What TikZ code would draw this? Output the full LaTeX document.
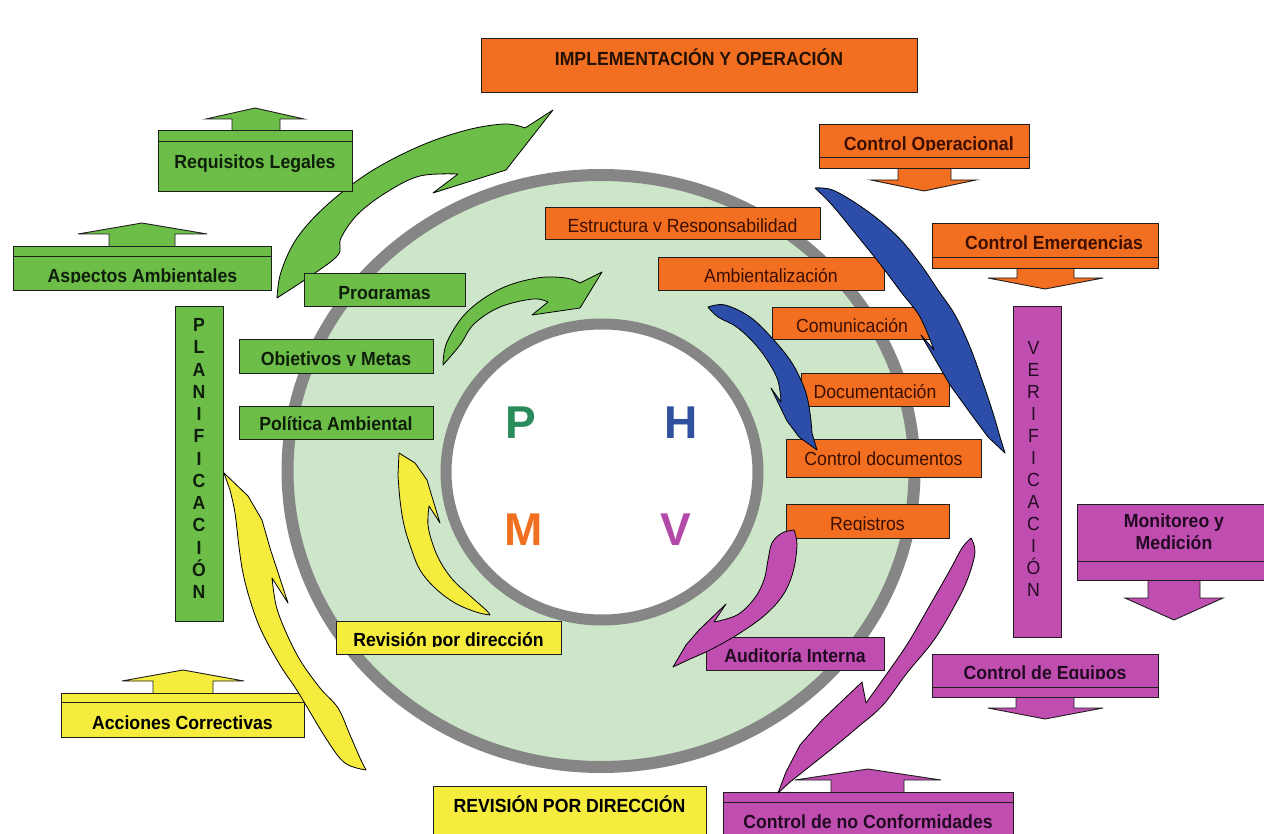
\documentclass[tikz,border=0pt]{standalone}
\usepackage{fontspec}
\setmainfont{Liberation Sans}[FakeStretch=0.93]
\newfontfamily\phvafont{Liberation Sans}
\newcommand\dgmfont{\fontsize{19}{22.5}\selectfont}
% hides the part of a label below its baseline (clipped descenders)
\newcommand\cutdesc[2]{\fill[#2] ([xshift=1pt,yshift=-0.4pt]#1.base west) rectangle ([xshift=-1pt,yshift=-4.8pt]#1.base east);}

\definecolor{gfill}{RGB}{108,190,72}
\definecolor{ofill}{RGB}{242,110,32}
\definecolor{mfill}{RGB}{192,78,176}
\definecolor{yfill}{RGB}{245,236,62}
\definecolor{bfill}{RGB}{44,78,168}
\definecolor{ringin}{RGB}{205,229,200}
\definecolor{ringgray}{RGB}{134,134,134}
\definecolor{edge}{RGB}{30,30,30}
\definecolor{gtext}{RGB}{15,30,10}
\definecolor{otext}{RGB}{60,15,0}
\definecolor{mtext}{RGB}{35,10,35}
\definecolor{Pcol}{RGB}{42,140,90}
\definecolor{Hcol}{RGB}{48,80,160}
\definecolor{Mcol}{RGB}{240,112,32}
\definecolor{Vcol}{RGB}{178,72,168}

\tikzset{
  sz/.style 2 args={minimum width=#1pt, minimum height=#2pt},
  boxbase/.style={draw=edge, line width=0.9pt, inner sep=0pt, font=\dgmfont},
  box/.style={boxbase, text height=18.2pt, text depth=0pt},
  gbox/.style={box, fill=gfill, text=gtext, font=\dgmfont\bfseries},
  obox/.style={box, fill=ofill, text=otext},
  oboxb/.style={obox, font=\dgmfont\bfseries},
  mbox/.style={box, fill=mfill, text=mtext, font=\dgmfont\bfseries},
  ybox/.style={box, fill=yfill, text=black, font=\dgmfont\bfseries},
  farrow/.style={draw=edge, line width=0.9pt, line join=miter},
  sepline/.style={draw=edge, line width=0.9pt},
  carrow/.style={draw=black, line width=0.8pt, line join=round},
  phva/.style={inner sep=0pt, font=\phvafont\fontsize{46}{50}\selectfont\bfseries},
  vword/.style={inner sep=0pt, align=center}
}

\begin{document}
\begin{tikzpicture}[x=1pt,y=-1pt]
\useasboundingbox (0,0) rectangle (1264,834);
\fill[white] (0,0) rectangle (1264,834);

% ---- the two rings of the cycle ----
\fill[ringin] (601,471) ellipse [x radius=313.5pt, y radius=296pt];
\draw[ringgray, line width=12pt] (601,471) ellipse [x radius=313.5pt, y radius=296pt];
\fill[white] (602,472) ellipse [x radius=156pt, y radius=148pt];
\draw[ringgray, line width=11pt] (602,472) ellipse [x radius=156pt, y radius=148pt];

\node[phva, text=Pcol] (lp) at (521,423) {P};
\node[phva, text=Hcol] (lh) at (681,423) {H};
\node[phva, text=Mcol] (lm) at (524,530) {M};
\node[phva, text=Vcol] (lv) at (676,530) {V};

% ---- large green curved arrow (behind the boxes) ----
\draw[carrow, fill=gfill]
  plot[smooth, tension=0.6] coordinates {(277,298) (281,272) (297,238) (327,205) (370,172) (420,146) (467,130) (505,124) (525,128)}
  -- (553,110) -- (506,170) -- (433,193) -- (458,174)
  -- plot[smooth, tension=0.6] coordinates {(458,174) (420,176) (387,192) (358,214) (341,238) (338,255) (312,275) (277,298)}
  -- cycle;

% ---- planning ----
\draw[farrow, fill=gfill] (232,130) -- (232,119) -- (206,119) -- (255,108) -- (304,119) -- (280,119) -- (280,130);
\node[gbox, sz={194}{61}, text height=16pt] (req) at (255,160.5) {Requisitos Legales};
\draw[sepline] ([yshift=-12pt]req.north west) -- ([yshift=-12pt]req.north east);

\draw[farrow, fill=gfill] (109,246) -- (109,234) -- (78,234) -- (142,223) -- (207,234) -- (175,234) -- (175,246);
\node[gbox, sz={258}{44}, text height=29.2pt] (asp) at (142.5,268) {Aspectos Ambientales};
\draw[sepline] ([yshift=-11pt]asp.north west) -- ([yshift=-11pt]asp.north east);
\cutdesc{asp}{gfill}

\node[gbox, sz={161}{33}] (prog) at (384.5,290) {Programas};
\cutdesc{prog}{gfill}
\node[gbox, sz={194}{34}] (obj) at (336,356) {Objetivos y Metas};
\cutdesc{obj}{gfill}
\node[gbox, sz={194}{33}, text height=15.2pt] (pol) at (336,422.5) {Política Ambiental};

\node[boxbase, fill=gfill, sz={48}{315}] (plan) at (199,463.5) {};
\node[vword, font=\fontsize{19}{22.25}\selectfont\bfseries, text=gtext] (plantxt) at (199,458.5)
  {P\\L\\A\\N\\I\\F\\I\\C\\A\\C\\I\\Ó\\N};

% ---- implementation and operation ----
\node[oboxb, sz={436}{54}, text height=1pt, text=black!85!ofill] (impl) at (699,65) {IMPLEMENTACIÓN Y OPERACIÓN};

\draw[farrow, fill=ofill] (898,168) -- (898,180) -- (871,180) -- (924,191) -- (976,180) -- (951,180) -- (951,168);
\node[oboxb, sz={210}{44}, text height=9pt] (cop) at (924,146) {\hspace*{9.6pt}Control Operacional};
\draw[sepline] ([yshift=11pt]cop.south west) -- ([yshift=11pt]cop.south east);
\cutdesc{cop}{ofill}

\draw[farrow, fill=ofill] (1017,268) -- (1017,278) -- (988,278) -- (1045,289) -- (1103,278) -- (1074,278) -- (1074,268);
\node[oboxb, sz={226}{45}, text height=8.6pt] (cem) at (1045,245.5) {\hspace*{18pt}Control Emergencias};
\draw[sepline] ([yshift=11pt]cem.south west) -- ([yshift=11pt]cem.south east);
\cutdesc{cem}{ofill}

\node[obox, sz={275}{32}] (est) at (682.5,223) {Estructura y Responsabilidad};
\cutdesc{est}{ofill}
\node[obox, sz={226}{33}] (amb) at (771,273.5) {Ambientalización};
\node[obox, sz={160}{32}] (com) at (852,323) {Comunicación};
\node[obox, sz={148}{33}] (doc) at (875,389.5) {Documentación};
\node[obox, sz={195}{38}, text height=14.4pt] (cdoc) at (883.5,458) {Control documentos};
\node[obox, sz={163}{34}] (reg) at (867.5,521) {Registros};
\cutdesc{reg}{ofill}

% ---- verification ----
\node[boxbase, fill=mfill, sz={48}{331}] (ver) at (1037,471.5) {};
\node[vword, font=\fontsize{19}{22}\selectfont, text=mtext] (vertxt) at (1033.5,469)
  {V\\E\\R\\I\\F\\I\\C\\A\\C\\I\\Ó\\N};

\draw[farrow, fill=mfill] (1148,580) -- (1148,598) -- (1125,598) -- (1174,620) -- (1223,598) -- (1200,598) -- (1200,580);
\node[boxbase, fill=mfill, sz={194}{76}] (mon) at (1174,542) {};
\draw[sepline] ([yshift=19pt]mon.south west) -- ([yshift=19pt]mon.south east);
\node[vword, font=\fontsize{19}{21.8}\selectfont\bfseries, text=mtext] (montxt) at (1174,532.1) {Monitoreo y\\Medición};

\draw[farrow, fill=mfill] (1016,697) -- (1016,708) -- (988,708) -- (1045,719) -- (1103,708) -- (1074,708) -- (1074,697);
\node[mbox, sz={226}{43}, text height=7pt] (ceq) at (1045,675.5) {Control de Equipos};
\draw[sepline] ([yshift=10pt]ceq.south west) -- ([yshift=10pt]ceq.south east);
\cutdesc{ceq}{mfill}

\node[mbox, sz={178}{33}] (aud) at (795,653.5) {Auditoría Interna};

\draw[farrow, fill=mfill] (831,792) -- (831,780) -- (795,780) -- (868,769) -- (941,780) -- (904,780) -- (904,792);
\node[mbox, sz={290}{60}, text height=13.6pt] (cnc) at (868,822) {Control de no Conformidades};
\draw[sepline] ([yshift=-11pt]cnc.north west) -- ([yshift=-11pt]cnc.north east);

% ---- management review ----
\node[ybox, sz={225}{33}] (revd) at (448.5,637.5) {Revisión por dirección};
\cutdesc{revd}{yfill}

\draw[farrow, fill=yfill] (153,693) -- (153,681) -- (122,681) -- (183,670) -- (244,681) -- (213,681) -- (213,693);
\node[ybox, sz={243}{44}, text height=28.6pt] (acc) at (182.5,715) {Acciones Correctivas};
\draw[sepline] ([yshift=-10pt]acc.north west) -- ([yshift=-10pt]acc.north east);

\node[ybox, sz={273}{66}, text height=0pt, text depth=13.8pt] (rev) at (569.5,819) {REVISIÓN POR DIRECCIÓN};

% ---- curved arrows of the cycle ----
% small green
\draw[carrow, fill=gfill]
  plot[smooth, tension=0.6] coordinates {(443,365) (447,342) (467,312) (500,289) (537,278) (566,278) (580,283)}
  -- (602,272) -- (580,308) -- (532,315) -- (548,302)
  -- plot[smooth, tension=0.6] coordinates {(548,302) (533,299) (500,307) (474,324) (460,345) (443,365)}
  -- cycle;

% large blue
\draw[carrow, fill=bfill]
  plot[smooth, tension=0.6] coordinates {(815,188) (835,191) (870,213) (899,238) (921,265) (938,290) (955,315) (970,347) (982,380) (993,413) (1000,437)}
  -- (1005,453) -- (988,437) -- (968,410) -- (950,385) -- (921,335) -- (934,350)
  -- plot[smooth, tension=0.6] coordinates {(934,350) (920,317) (901,292) (880,264) (855,233) (832,205) (815,188)}
  -- cycle;

% small blue
\draw[carrow, fill=bfill]
  plot[smooth, tension=0.6] coordinates {(708,307) (725,305) (750,317) (772,338) (792,363) (805,390) (810,413) (812,433)}
  -- (817,450) -- (799,437) -- (787,421) -- (771,388) -- (781,402)
  -- plot[smooth, tension=0.6] coordinates {(781,402) (777,378) (760,350) (738,328) (718,317) (708,307)}
  -- cycle;

% small magenta
\draw[carrow, fill=mfill]
  plot[smooth, tension=0.6] coordinates {(794,530) (797,545) (793,572) (783,595) (765,615) (740,633) (712,649) (690,659)}
  -- (673,667) -- (686,645) -- (699,630) -- (726,604) -- (714,622)
  -- plot[smooth, tension=0.6] coordinates {(714,622) (737,615) (754,599) (764,580) (768,560) (772,543) (782,533) (794,530)}
  -- cycle;

% large magenta
\draw[carrow, fill=mfill]
  plot[smooth, tension=0.6] coordinates {(971,538) (975,552) (968,578) (955,605) (934,640) (907,673) (883,705) (858,727) (834,747) (809,767) (790,782)}
  -- (778,793) -- (786,772) -- (800,745) -- (822,720) -- (862,682) -- (866,703)
  -- plot[smooth, tension=0.6] coordinates {(866,703) (886,675) (908,643) (930,605) (950,570) (962,548) (971,538)}
  -- cycle;

% large yellow
\draw[carrow, fill=yfill]
  plot[smooth, tension=0.6] coordinates {(366,770) (345,763) (327,740) (298,692) (280,665) (261,630) (250,600) (243,573) (239,547) (235,513) (230,490)}
  -- (224,473) -- (248,496) -- (262,520) -- (270,548) -- (288,603) -- (272,578)
  -- plot[smooth, tension=0.6] coordinates {(272,578) (276,605) (285,630) (300,660) (320,688) (338,708) (350,735) (360,758) (366,770)}
  -- cycle;

% small yellow
\draw[carrow, fill=yfill]
  plot[smooth, tension=0.6] coordinates {(490,615) (476,612) (455,603) (435,588) (420,570) (411,548) (404,525) (400,500) (398,475)}
  -- (399,453) -- (415,463) -- (427,480) -- (433,500) -- (440,523) -- (429,506)
  -- plot[smooth, tension=0.6] coordinates {(429,506) (428,525) (433,545) (441,563) (453,580) (468,594) (486,610) (490,615)}
  -- cycle;

\end{tikzpicture}
\end{document}
